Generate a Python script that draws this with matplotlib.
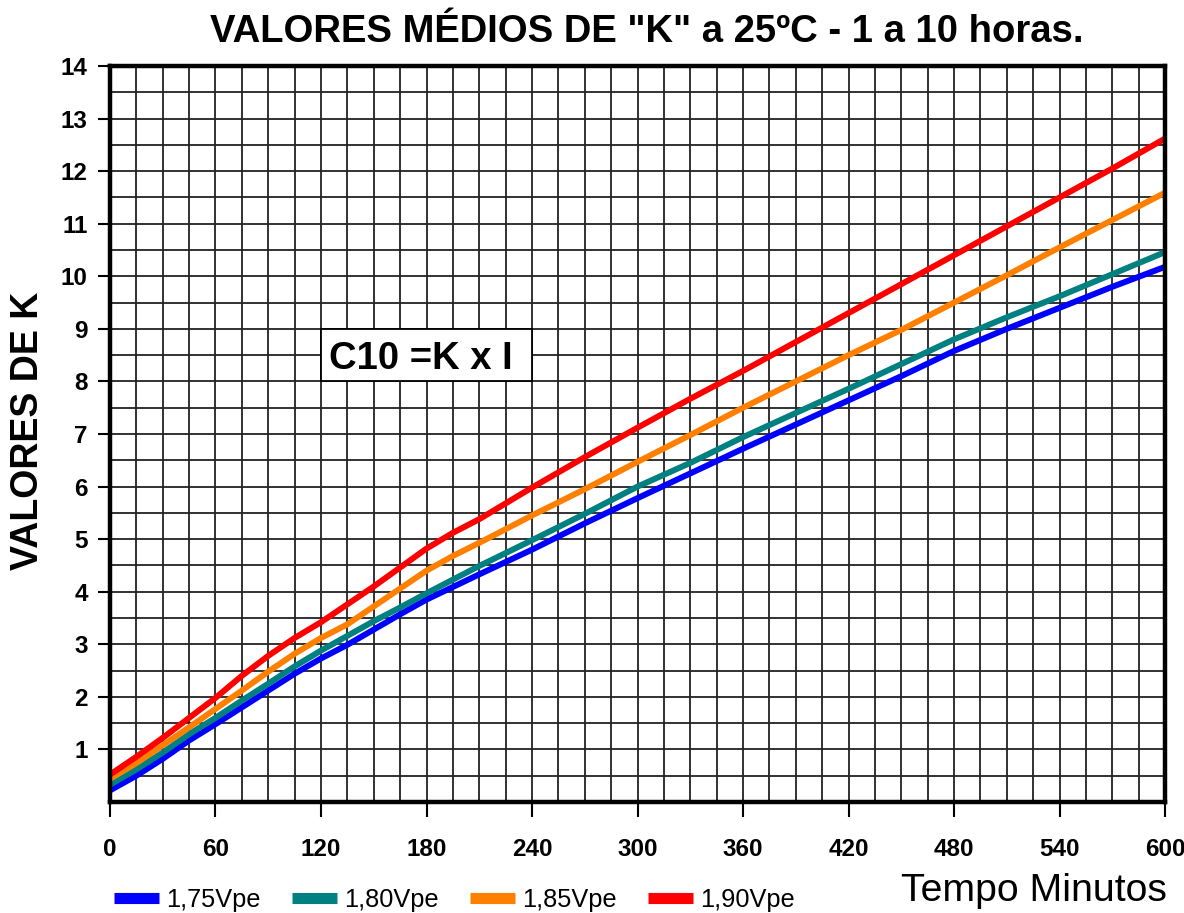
import matplotlib
matplotlib.use("Agg")
import matplotlib.pyplot as plt
from matplotlib.ticker import MultipleLocator
from matplotlib.lines import Line2D
from matplotlib.patches import Rectangle

tempo = [0, 15, 30, 45, 60, 75, 90, 105, 120, 135, 150, 165, 180, 195, 210,
         240, 270, 300, 330, 360, 390, 420, 450, 480, 510, 540, 570, 600]
k_175 = [0.22, 0.50, 0.82, 1.17, 1.48, 1.80, 2.12, 2.44, 2.73, 2.99, 3.28,
         3.57, 3.85, 4.09, 4.33, 4.80, 5.30, 5.78, 6.25, 6.72, 7.18, 7.64,
         8.10, 8.58, 9.00, 9.40, 9.80, 10.18]
k_180 = [0.33, 0.62, 0.94, 1.29, 1.60, 1.93, 2.25, 2.58, 2.88, 3.16, 3.44,
         3.70, 3.97, 4.23, 4.49, 4.98, 5.48, 6.00, 6.45, 6.94, 7.40, 7.86,
         8.33, 8.80, 9.22, 9.62, 10.04, 10.46]
k_185 = [0.44, 0.74, 1.08, 1.42, 1.77, 2.12, 2.48, 2.82, 3.12, 3.38, 3.72,
         4.06, 4.40, 4.68, 4.93, 5.45, 5.95, 6.47, 6.98, 7.50, 8.00, 8.50,
         8.98, 9.50, 10.02, 10.55, 11.07, 11.59]
k_190 = [0.52, 0.86, 1.22, 1.60, 1.98, 2.40, 2.78, 3.12, 3.42, 3.76, 4.10,
         4.46, 4.82, 5.12, 5.38, 5.98, 6.56, 7.12, 7.67, 8.20, 8.75, 9.30,
         9.85, 10.40, 10.95, 11.50, 12.05, 12.62]
series_labels = ["1,75Vpe", "1,80Vpe", "1,85Vpe", "1,90Vpe"]
colors = ["#0000FF", "#008080", "#FF8000", "#FF0000"]
x_ticks = [0, 60, 120, 180, 240, 300, 360, 420, 480, 540, 600]
y_ticks = list(range(1, 15))

plt.rcParams['font.family'] = ['Liberation Sans', 'DejaVu Sans']

fig = plt.figure(figsize=(11.84, 9.13), dpi=100)
ax = fig.add_axes([0.0929, 0.1216, 0.984 - 0.0929, 0.9277 - 0.1216])

for ys, c in zip([k_175, k_180, k_185, k_190], colors):
    ax.plot(tempo, ys, color=c, lw=4.3, solid_capstyle='butt', zorder=3)

ax.set_xlim(0, 600)
ax.set_ylim(0, 14)
ax.set_xticks(x_ticks)
ax.set_yticks(y_ticks)
ax.xaxis.set_minor_locator(MultipleLocator(15))
ax.yaxis.set_minor_locator(MultipleLocator(0.5))
ax.grid(which='both', color='#222222', lw=1.3, zorder=1)
ax.tick_params(axis='x', which='major', length=11, width=1.5, pad=15,
               labelsize=17.5, direction='out')
ax.tick_params(axis='y', which='major', length=9, width=1.5, pad=7,
               labelsize=17.5, direction='out')
ax.tick_params(which='minor', length=0)
for lab in ax.get_xticklabels() + ax.get_yticklabels():
    lab.set_fontweight('bold')
for sp in ax.spines.values():
    sp.set_linewidth(3.2)
    sp.set_zorder(4)

fig.text(0.5465, 0.965, 'VALORES MÉDIOS DE "K" a 25ºC - 1 a 10 horas.',
         ha='center', va='center', fontsize=27.5, fontweight='bold')
fig.text(0.0236, 0.528, 'VALORES DE K', rotation=90, ha='center', va='center',
         fontsize=27, fontweight='bold')

ax.add_patch(Rectangle((120, 8), 120, 1, fc='white', ec='black', lw=1.3, zorder=5))
ax.text(177, 8.5, 'C10 =K x I', ha='center', va='center_baseline', fontsize=27.5,
        fontweight='bold', zorder=6)

fig.text(0.9855, 0.013, 'Tempo Minutos', ha='right', va='baseline', fontsize=28.3)

handles = [Line2D([0], [0], color=c, lw=8, solid_capstyle='butt') for c in colors]
fig.legend(handles, series_labels, loc='center left',
           bbox_to_anchor=(0.096, 0.0142), ncol=4, frameon=False,
           fontsize=18.3, handlelength=1.8, handletextpad=0.28,
           columnspacing=1.2, borderaxespad=0, borderpad=0)

fig.savefig('out.png', dpi=100)
